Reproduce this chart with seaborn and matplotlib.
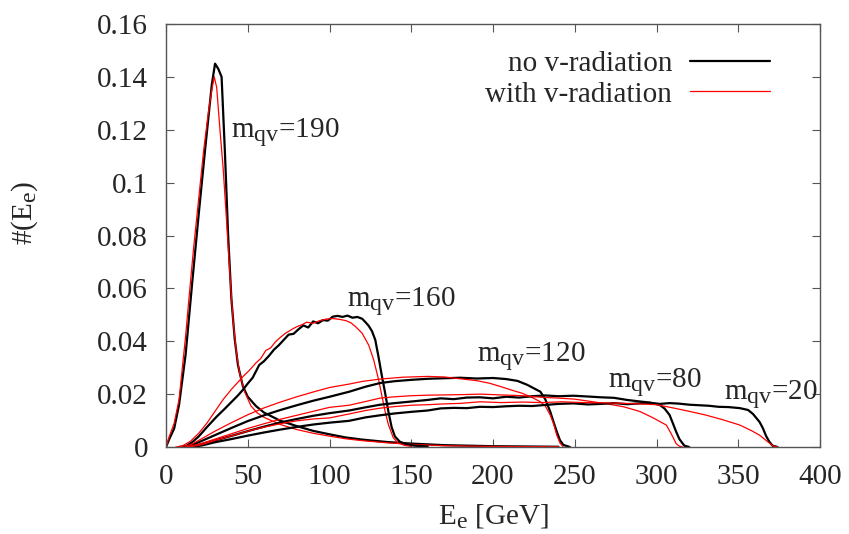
import seaborn as sns
import matplotlib.pyplot as plt
import matplotlib._mathtext as mathtext_impl

# electron energy spectra
# m_qv = 190
x190_k = [0, 2, 5, 8, 12, 16, 20, 24, 26, 28, 30, 32, 34, 36, 38, 40, 42, 44, 47, 50, 55, 60,
          70, 80, 90, 100, 110, 120, 135, 150, 170, 200, 240]
y190_k = [0, 0.003, 0.007, 0.016, 0.035, 0.062, 0.088, 0.113, 0.125, 0.137, 0.145, 0.143, 0.140,
          0.112, 0.080, 0.056, 0.041, 0.031, 0.023, 0.019, 0.0155, 0.013, 0.0099, 0.0079, 0.0061,
          0.0048, 0.0036, 0.0028, 0.0019, 0.0013, 0.0007, 0.0003, 0.0001]
x190_r = [0, 2, 5, 8, 12, 14, 17, 20, 23, 26, 28, 29.5, 31, 33, 35, 37, 39, 41, 43, 45, 48, 52,
          56, 60, 70, 80, 90, 100, 110, 120, 135, 150, 170, 200, 240]
y190_r = [0, 0.004, 0.009, 0.018, 0.042, 0.056, 0.076, 0.094, 0.112, 0.127, 0.135, 0.140, 0.136,
          0.12, 0.105, 0.086, 0.066, 0.048, 0.036, 0.028, 0.021, 0.0155, 0.0128, 0.0112, 0.0085,
          0.0066, 0.0052, 0.0041, 0.0031, 0.0024, 0.0016, 0.001, 0.0005, 0.0002, 0.0001]

# m_qv = 160
x160_k = [8, 12, 16, 20, 25, 31, 36, 40, 44, 47, 50, 53, 57, 60, 63, 66, 69, 72, 75, 78, 81, 84,
          87, 90, 93, 96, 99, 102, 105, 108, 111, 114, 117, 120, 122, 124, 126, 128, 130, 132,
          134, 136, 138, 140, 143, 147, 152, 160]
y160_k = [0, 0.0003, 0.0018, 0.004, 0.0075, 0.0115, 0.0145, 0.017, 0.0195, 0.0216, 0.024,
          0.0262, 0.031, 0.0325, 0.0345, 0.0368, 0.0385, 0.0405, 0.0425, 0.0428, 0.0445, 0.046,
          0.0452, 0.0475, 0.0468, 0.048, 0.0478, 0.0493, 0.0496, 0.0492, 0.0497, 0.0489, 0.0492,
          0.0485, 0.0472, 0.0458, 0.0438, 0.0405, 0.034, 0.027, 0.0205, 0.0135, 0.0075, 0.004,
          0.002, 0.001, 0.0005, 0.0002]
x160_r = [6, 10, 15, 20, 25, 30, 35, 40, 44, 47, 51, 55, 58, 61, 64, 67, 70, 73, 77, 80, 83, 86,
          90, 94, 98, 102, 106, 110, 113, 116, 120, 124, 127, 130, 132, 134, 136, 139, 142, 146, 150]
y160_r = [0, 0.0004, 0.0022, 0.0052, 0.009, 0.0135, 0.018, 0.0218, 0.0245, 0.0266, 0.029,
          0.0318, 0.0335, 0.0365, 0.0375, 0.0398, 0.0415, 0.043, 0.0445, 0.0455, 0.0462, 0.0472,
          0.0468, 0.0478, 0.0484, 0.0486, 0.0483, 0.0478, 0.047, 0.0455, 0.043, 0.0385, 0.033,
          0.0255, 0.0195, 0.0135, 0.0085, 0.0035, 0.0015, 0.0006, 0.0002]

# m_qv = 120
x120_k = [10, 15, 20, 30, 40, 50, 60, 70, 80, 90, 100, 112, 122, 131, 140, 150, 160, 170, 180,
          190, 200, 208, 215, 221, 225, 229, 232, 235, 237, 239, 241, 243, 247]
y120_k = [0, 0.0005, 0.0018, 0.0045, 0.0072, 0.0098, 0.012, 0.014, 0.0158, 0.0175, 0.019,
          0.0209, 0.0228, 0.0242, 0.0249, 0.0254, 0.0258, 0.026, 0.0262, 0.0259, 0.0261, 0.0257,
          0.025, 0.0235, 0.0222, 0.0209, 0.018, 0.0134, 0.0095, 0.0058, 0.0025, 0.0008, 0]
x120_r = [8, 15, 20, 30, 40, 50, 60, 70, 80, 90, 100, 112, 120, 131, 145, 160, 170, 180, 190,
          198, 205, 212, 218, 224, 229, 232, 235, 237, 239, 241, 243]
y120_r = [0, 0.0008, 0.0025, 0.006, 0.0092, 0.0122, 0.0148, 0.017, 0.019, 0.0208, 0.0225,
          0.0238, 0.0248, 0.0257, 0.0264, 0.0267, 0.0265, 0.0258, 0.0251, 0.0241, 0.0228, 0.0214,
          0.0203, 0.0187, 0.0171, 0.0155, 0.0121, 0.009, 0.0045, 0.0015, 0]

# m_qv = 80
x80_k = [14, 20, 30, 40, 50, 60, 70, 80, 90, 100, 112, 122, 131, 140, 150, 160, 168, 176, 184,
         192, 200, 208, 216, 224, 232, 240, 249, 258, 266, 274, 282, 290, 296, 302, 305, 308,
         310, 312, 314, 317, 320]
y80_k = [0, 0.0008, 0.0025, 0.0042, 0.006, 0.0077, 0.0093, 0.0106, 0.0118, 0.0128, 0.0138,
         0.015, 0.016, 0.0166, 0.0172, 0.0178, 0.0184, 0.0181, 0.0187, 0.0188, 0.0184, 0.019,
         0.0187, 0.0192, 0.0195, 0.0192, 0.0194, 0.0191, 0.0188, 0.0186, 0.0178, 0.0172, 0.0168,
         0.0159, 0.0145, 0.0121, 0.009, 0.0058, 0.003, 0.0005, 0]
x80_r = [12, 20, 30, 40, 50, 60, 70, 80, 90, 100, 112, 122, 131, 140, 150, 160, 170, 180, 192,
         205, 218, 230, 240, 250, 260, 270, 280, 290, 298, 306, 309, 312, 314, 316]
y80_r = [0, 0.001, 0.003, 0.005, 0.007, 0.0088, 0.0105, 0.012, 0.0135, 0.015, 0.0158, 0.0172,
         0.0185, 0.019, 0.0194, 0.0196, 0.0197, 0.0198, 0.02, 0.0197, 0.0194, 0.0188, 0.0185,
         0.0181, 0.0172, 0.0163, 0.0152, 0.0134, 0.011, 0.0083, 0.005, 0.0013, 0.0003, 0]

# m_qv = 20
x20_k = [16, 22, 30, 40, 50, 60, 70, 80, 90, 100, 112, 122, 131, 140, 150, 160, 168, 176, 184,
         192, 200, 208, 216, 224, 232, 240, 249, 258, 266, 274, 282, 290, 296, 302, 308, 314,
         320, 326, 332, 338, 344, 351, 356, 359, 361, 363, 365, 367, 369, 371, 374]
y20_k = [0, 0.0006, 0.0018, 0.003, 0.0043, 0.0055, 0.0066, 0.0076, 0.0085, 0.0092, 0.0099,
         0.0112, 0.012, 0.0127, 0.0133, 0.0138, 0.0146, 0.0148, 0.0147, 0.0152, 0.0151, 0.0154,
         0.0156, 0.0155, 0.0159, 0.0163, 0.0165, 0.0161, 0.0163, 0.0166, 0.0162, 0.0165, 0.0167,
         0.0163, 0.0166, 0.0164, 0.016, 0.0158, 0.0156, 0.0152, 0.0151, 0.0147, 0.014, 0.0125,
         0.011, 0.0095, 0.0072, 0.0042, 0.002, 0.0005, 0]
x20_r = [14, 22, 30, 40, 50, 60, 70, 80, 90, 100, 112, 122, 131, 140, 150, 160, 170, 180, 192,
         205, 218, 230, 242, 255, 268, 280, 290, 300, 310, 320, 330, 340, 351, 358, 363, 367,
         371, 374]
y20_r = [0, 0.0009, 0.0025, 0.0042, 0.006, 0.0075, 0.0088, 0.0099, 0.0106, 0.011, 0.0125,
         0.0138, 0.0147, 0.0153, 0.0158, 0.016, 0.0163, 0.0165, 0.0171, 0.0168, 0.017, 0.0168,
         0.0171, 0.0168, 0.0167, 0.0165, 0.0163, 0.016, 0.0148, 0.0135, 0.0121, 0.0104, 0.0083,
         0.0062, 0.0045, 0.0025, 0.0005, 0]

# curve labels
masses = [190, 160, 120, 80, 20]
label_x = [40, 110.5, 190.5, 270.5, 341]
label_y = [0.117, 0.053, 0.0323, 0.0225, 0.0178]

x_ticks = [0, 50, 100, 150, 200, 250, 300, 350, 400]
y_ticks = [0, 0.02, 0.04, 0.06, 0.08, 0.1, 0.12, 0.14, 0.16]

# Style
sns.set_style('ticks')
plt.rcParams['font.family'] = ['Liberation Serif', 'DejaVu Serif']
plt.rcParams['mathtext.fontset'] = 'custom'
plt.rcParams['mathtext.rm'] = 'Liberation Serif'
plt.rcParams['mathtext.it'] = 'Liberation Serif:italic'
# gnuplot-like subscripts: a bit larger than matplotlib's default
mathtext_impl.SHRINK_FACTOR = 0.82
FS = 21

fig = plt.figure(figsize=(8.49, 5.34), dpi=100)
ax = fig.add_axes([166 / 849, 1 - 447 / 534, 654 / 849, 423 / 534])

curves = [(x190_k, y190_k, x190_r, y190_r),
          (x160_k, y160_k, x160_r, y160_r),
          (x120_k, y120_k, x120_r, y120_r),
          (x80_k, y80_k, x80_r, y80_r),
          (x20_k, y20_k, x20_r, y20_r)]

for i, (xk, yk, xr, yr) in enumerate(curves):
    sns.lineplot(x=xk, y=yk, color='black', lw=1.6, ax=ax, sort=False, estimator=None,
                 label='no v-radiation' if i == 0 else None)
    sns.lineplot(x=xr, y=yr, color='#ff0000', lw=0.9, ax=ax, sort=False, estimator=None,
                 label='with v-radiation' if i == 0 else None)

for m, lx, ly in zip(masses, label_x, label_y):
    ax.text(lx, ly, r'm$_{\mathrm{qv}}$=' + str(m), fontsize=FS, ha='left', va='baseline')

ax.set_xlim(0, 400)
ax.set_ylim(0, 0.16)
ax.set_xticks(x_ticks)
ax.set_yticks(y_ticks)
ax.set_xticklabels([str(v) for v in x_ticks])
ax.set_yticklabels([f'{v:g}' for v in y_ticks])
ax.tick_params(direction='in', length=5.8, width=0.8, top=True, right=True,
               labelsize=FS, color='#555555')
ax.tick_params(axis='y', pad=13)
ax.tick_params(axis='x', pad=12)
for sp in ax.spines.values():
    sp.set_visible(True)
    sp.set_color('#555555')
    sp.set_linewidth(1.0)
ax.set_xlabel('')
ax.set_ylabel('')

ax.legend(loc='upper right', bbox_to_anchor=(770 / 849, 1 - 51 / 534),
          bbox_transform=fig.transFigure, frameon=False, markerfirst=False,
          handlelength=2.75, handletextpad=0.6, borderpad=0, borderaxespad=0,
          labelspacing=0.13, fontsize=FS)

fig.text(25 / 849, 1 - 213 / 534, r'#(E$_{\mathrm{e}}$)', rotation=90, fontsize=FS,
         ha='center', va='center')
fig.text(493 / 849, 1 - 524 / 534, r'E$_{\mathrm{e}}$ [GeV]', fontsize=FS,
         ha='center', va='baseline')

fig.savefig('out.png', dpi=100)
